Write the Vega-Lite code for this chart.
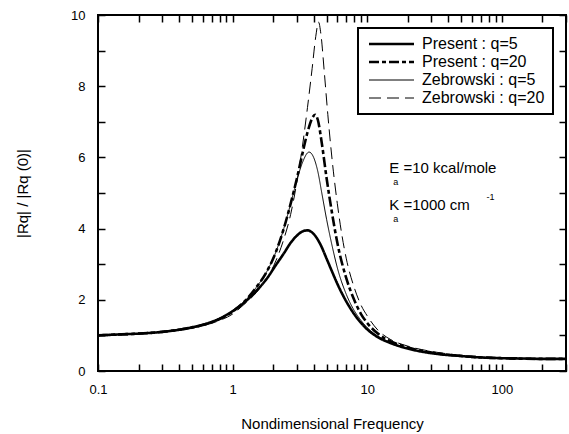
{
  "$schema": "https://vega.github.io/schema/vega-lite/v6.json",
  "width": 468,
  "height": 356,
  "autosize": "none",
  "padding": {"left": 98, "top": 15, "right": 3, "bottom": 63},
  "background": "white",
  "config": {
    "font": "Liberation Sans",
    "view": {"stroke": "black", "strokeWidth": 2},
    "axis": {"grid": false, "domain": false, "zindex": 1, "ticks": true, "tickColor": "#000000", "tickWidth": 1.5, "tickOpacity": 1, "labelColor": "black", "titleColor": "black", "labelFont": "Liberation Sans", "titleFont": "Liberation Sans", "labelFontSize": 13, "titleFontSize": 15, "titleFontWeight": "normal"}
  },
  "datasets": {
    "curves": [
      {"f": 0.1, "r": 1.0, "s": "Present : q=5"}, {"f": 0.15, "r": 1.03, "s": "Present : q=5"}, {"f": 0.2, "r": 1.05, "s": "Present : q=5"}, {"f": 0.3, "r": 1.1, "s": "Present : q=5"}, {"f": 0.4, "r": 1.16, "s": "Present : q=5"}, {"f": 0.5, "r": 1.23, "s": "Present : q=5"}, {"f": 0.6, "r": 1.3, "s": "Present : q=5"}, {"f": 0.7, "r": 1.38, "s": "Present : q=5"}, {"f": 0.8, "r": 1.47, "s": "Present : q=5"}, {"f": 1.0, "r": 1.68, "s": "Present : q=5"}, {"f": 1.2, "r": 1.9, "s": "Present : q=5"}, {"f": 1.5, "r": 2.25, "s": "Present : q=5"}, {"f": 1.8, "r": 2.6, "s": "Present : q=5"}, {"f": 2.1, "r": 2.98, "s": "Present : q=5"}, {"f": 2.4, "r": 3.3, "s": "Present : q=5"}, {"f": 2.7, "r": 3.6, "s": "Present : q=5"}, {"f": 3.0, "r": 3.8, "s": "Present : q=5"}, {"f": 3.3, "r": 3.92, "s": "Present : q=5"}, {"f": 3.6, "r": 3.95, "s": "Present : q=5"}, {"f": 4.0, "r": 3.85, "s": "Present : q=5"}, {"f": 4.5, "r": 3.55, "s": "Present : q=5"}, {"f": 5.0, "r": 3.15, "s": "Present : q=5"}, {"f": 5.5, "r": 2.78, "s": "Present : q=5"}, {"f": 6.0, "r": 2.45, "s": "Present : q=5"}, {"f": 7.0, "r": 1.95, "s": "Present : q=5"}, {"f": 8.0, "r": 1.6, "s": "Present : q=5"}, {"f": 9.0, "r": 1.35, "s": "Present : q=5"}, {"f": 10, "r": 1.17, "s": "Present : q=5"}, {"f": 12, "r": 0.95, "s": "Present : q=5"}, {"f": 15, "r": 0.78, "s": "Present : q=5"}, {"f": 20, "r": 0.63, "s": "Present : q=5"}, {"f": 30, "r": 0.5, "s": "Present : q=5"}, {"f": 50, "r": 0.42, "s": "Present : q=5"}, {"f": 70, "r": 0.38, "s": "Present : q=5"}, {"f": 100, "r": 0.36, "s": "Present : q=5"}, {"f": 150, "r": 0.35, "s": "Present : q=5"}, {"f": 200, "r": 0.34, "s": "Present : q=5"}, {"f": 300, "r": 0.34, "s": "Present : q=5"},

      {"f": 0.1, "r": 1.0, "s": "Present : q=20"}, {"f": 0.15, "r": 1.03, "s": "Present : q=20"}, {"f": 0.2, "r": 1.05, "s": "Present : q=20"}, {"f": 0.3, "r": 1.1, "s": "Present : q=20"}, {"f": 0.4, "r": 1.16, "s": "Present : q=20"}, {"f": 0.5, "r": 1.22, "s": "Present : q=20"}, {"f": 0.6, "r": 1.29, "s": "Present : q=20"}, {"f": 0.7, "r": 1.37, "s": "Present : q=20"}, {"f": 0.8, "r": 1.46, "s": "Present : q=20"}, {"f": 1.0, "r": 1.67, "s": "Present : q=20"}, {"f": 1.2, "r": 1.92, "s": "Present : q=20"}, {"f": 1.5, "r": 2.35, "s": "Present : q=20"}, {"f": 1.8, "r": 2.8, "s": "Present : q=20"}, {"f": 2.1, "r": 3.35, "s": "Present : q=20"}, {"f": 2.4, "r": 4.0, "s": "Present : q=20"}, {"f": 2.7, "r": 4.7, "s": "Present : q=20"}, {"f": 3.0, "r": 5.4, "s": "Present : q=20"}, {"f": 3.3, "r": 6.1, "s": "Present : q=20"}, {"f": 3.6, "r": 6.7, "s": "Present : q=20"}, {"f": 3.9, "r": 7.1, "s": "Present : q=20"}, {"f": 4.1, "r": 7.2, "s": "Present : q=20"}, {"f": 4.3, "r": 7.05, "s": "Present : q=20"}, {"f": 4.6, "r": 6.4, "s": "Present : q=20"}, {"f": 5.0, "r": 5.4, "s": "Present : q=20"}, {"f": 5.5, "r": 4.4, "s": "Present : q=20"}, {"f": 6.0, "r": 3.6, "s": "Present : q=20"}, {"f": 7.0, "r": 2.6, "s": "Present : q=20"}, {"f": 8.0, "r": 2.0, "s": "Present : q=20"}, {"f": 9.0, "r": 1.6, "s": "Present : q=20"}, {"f": 10, "r": 1.35, "s": "Present : q=20"}, {"f": 12, "r": 1.05, "s": "Present : q=20"}, {"f": 15, "r": 0.83, "s": "Present : q=20"}, {"f": 20, "r": 0.66, "s": "Present : q=20"}, {"f": 30, "r": 0.52, "s": "Present : q=20"}, {"f": 50, "r": 0.42, "s": "Present : q=20"}, {"f": 100, "r": 0.36, "s": "Present : q=20"}, {"f": 200, "r": 0.34, "s": "Present : q=20"}, {"f": 300, "r": 0.34, "s": "Present : q=20"},

      {"f": 0.1, "r": 1.0, "s": "Zebrowski : q=5"}, {"f": 0.15, "r": 1.03, "s": "Zebrowski : q=5"}, {"f": 0.2, "r": 1.05, "s": "Zebrowski : q=5"}, {"f": 0.3, "r": 1.1, "s": "Zebrowski : q=5"}, {"f": 0.4, "r": 1.16, "s": "Zebrowski : q=5"}, {"f": 0.5, "r": 1.23, "s": "Zebrowski : q=5"}, {"f": 0.6, "r": 1.3, "s": "Zebrowski : q=5"}, {"f": 0.7, "r": 1.38, "s": "Zebrowski : q=5"}, {"f": 0.8, "r": 1.47, "s": "Zebrowski : q=5"}, {"f": 1.0, "r": 1.68, "s": "Zebrowski : q=5"}, {"f": 1.2, "r": 1.92, "s": "Zebrowski : q=5"}, {"f": 1.5, "r": 2.35, "s": "Zebrowski : q=5"}, {"f": 1.8, "r": 2.8, "s": "Zebrowski : q=5"}, {"f": 2.1, "r": 3.35, "s": "Zebrowski : q=5"}, {"f": 2.4, "r": 4.0, "s": "Zebrowski : q=5"}, {"f": 2.7, "r": 4.7, "s": "Zebrowski : q=5"}, {"f": 3.0, "r": 5.35, "s": "Zebrowski : q=5"}, {"f": 3.3, "r": 5.85, "s": "Zebrowski : q=5"}, {"f": 3.7, "r": 6.15, "s": "Zebrowski : q=5"}, {"f": 4.0, "r": 6.0, "s": "Zebrowski : q=5"}, {"f": 4.3, "r": 5.6, "s": "Zebrowski : q=5"}, {"f": 4.6, "r": 5.0, "s": "Zebrowski : q=5"}, {"f": 5.0, "r": 4.25, "s": "Zebrowski : q=5"}, {"f": 5.5, "r": 3.5, "s": "Zebrowski : q=5"}, {"f": 6.0, "r": 2.9, "s": "Zebrowski : q=5"}, {"f": 7.0, "r": 2.15, "s": "Zebrowski : q=5"}, {"f": 8.0, "r": 1.7, "s": "Zebrowski : q=5"}, {"f": 9.0, "r": 1.42, "s": "Zebrowski : q=5"}, {"f": 10, "r": 1.22, "s": "Zebrowski : q=5"}, {"f": 12, "r": 0.98, "s": "Zebrowski : q=5"}, {"f": 15, "r": 0.8, "s": "Zebrowski : q=5"}, {"f": 20, "r": 0.64, "s": "Zebrowski : q=5"}, {"f": 30, "r": 0.5, "s": "Zebrowski : q=5"}, {"f": 50, "r": 0.42, "s": "Zebrowski : q=5"}, {"f": 100, "r": 0.36, "s": "Zebrowski : q=5"}, {"f": 200, "r": 0.34, "s": "Zebrowski : q=5"}, {"f": 300, "r": 0.34, "s": "Zebrowski : q=5"},

      {"f": 0.1, "r": 1.0, "s": "Zebrowski : q=20"}, {"f": 0.15, "r": 1.03, "s": "Zebrowski : q=20"}, {"f": 0.2, "r": 1.05, "s": "Zebrowski : q=20"}, {"f": 0.3, "r": 1.09, "s": "Zebrowski : q=20"}, {"f": 0.4, "r": 1.14, "s": "Zebrowski : q=20"}, {"f": 0.5, "r": 1.2, "s": "Zebrowski : q=20"}, {"f": 0.6, "r": 1.27, "s": "Zebrowski : q=20"}, {"f": 0.7, "r": 1.34, "s": "Zebrowski : q=20"}, {"f": 0.8, "r": 1.42, "s": "Zebrowski : q=20"}, {"f": 1.0, "r": 1.6, "s": "Zebrowski : q=20"}, {"f": 1.2, "r": 1.85, "s": "Zebrowski : q=20"}, {"f": 1.5, "r": 2.2, "s": "Zebrowski : q=20"}, {"f": 1.8, "r": 2.6, "s": "Zebrowski : q=20"}, {"f": 2.1, "r": 3.1, "s": "Zebrowski : q=20"}, {"f": 2.4, "r": 3.7, "s": "Zebrowski : q=20"}, {"f": 2.7, "r": 4.4, "s": "Zebrowski : q=20"}, {"f": 3.0, "r": 5.3, "s": "Zebrowski : q=20"}, {"f": 3.3, "r": 6.3, "s": "Zebrowski : q=20"}, {"f": 3.6, "r": 7.4, "s": "Zebrowski : q=20"}, {"f": 3.9, "r": 8.5, "s": "Zebrowski : q=20"}, {"f": 4.15, "r": 9.4, "s": "Zebrowski : q=20"}, {"f": 4.35, "r": 9.8, "s": "Zebrowski : q=20"}, {"f": 4.55, "r": 9.4, "s": "Zebrowski : q=20"}, {"f": 4.8, "r": 8.4, "s": "Zebrowski : q=20"}, {"f": 5.1, "r": 7.2, "s": "Zebrowski : q=20"}, {"f": 5.5, "r": 5.9, "s": "Zebrowski : q=20"}, {"f": 6.0, "r": 4.7, "s": "Zebrowski : q=20"}, {"f": 6.5, "r": 3.8, "s": "Zebrowski : q=20"}, {"f": 7.0, "r": 3.15, "s": "Zebrowski : q=20"}, {"f": 8.0, "r": 2.35, "s": "Zebrowski : q=20"}, {"f": 9.0, "r": 1.85, "s": "Zebrowski : q=20"}, {"f": 10, "r": 1.55, "s": "Zebrowski : q=20"}, {"f": 12, "r": 1.15, "s": "Zebrowski : q=20"}, {"f": 15, "r": 0.88, "s": "Zebrowski : q=20"}, {"f": 20, "r": 0.7, "s": "Zebrowski : q=20"}, {"f": 30, "r": 0.55, "s": "Zebrowski : q=20"}, {"f": 50, "r": 0.44, "s": "Zebrowski : q=20"}, {"f": 100, "r": 0.37, "s": "Zebrowski : q=20"}, {"f": 200, "r": 0.34, "s": "Zebrowski : q=20"}, {"f": 300, "r": 0.34, "s": "Zebrowski : q=20"}
    ],
    "notes": [
      {"f": 14.6, "r": 5.7, "t": "E  =10 kcal/mole", "k": "main"},
      {"f": 14.6, "r": 4.66, "t": "K  =1000 cm", "k": "main"},
      {"f": 15.6, "r": 5.3, "t": "a", "k": "sub"},
      {"f": 15.6, "r": 4.26, "t": "a", "k": "sub"},
      {"f": 77, "r": 4.9, "t": "-1", "k": "sub"}
    ]
  },
  "resolve": {"axis": {"x": "independent", "y": "independent"}},
  "layer": [
    {
      "data": {"name": "curves"},
      "mark": {"type": "line", "interpolate": "monotone", "color": "black", "clip": true},
      "encoding": {
        "x": {"field": "f", "type": "quantitative", "scale": {"type": "log", "domain": [0.1, 300], "nice": false},
          "axis": {"title": "Nondimensional Frequency", "titlePadding": 20,
            "values": [0.1,0.2,0.3,0.4,0.5,0.6,0.7,0.8,0.9,1,2,3,4,5,6,7,8,9,10,20,30,40,50,60,70,80,90,100,200,300],
            "labelExpr": "(datum.value == 0.1 || datum.value == 1 || datum.value == 10 || datum.value == 100) ? datum.label : ''",
            "offset": -7, "tickSize": 7, "labelPadding": 12, "labelFlush": false, "labelOverlap": false}},
        "y": {"field": "r", "type": "quantitative", "scale": {"domain": [0, 10], "nice": false},
          "axis": {"title": "|Rq| / |Rq (0)|", "titlePadding": 40,
            "values": [0,1,2,3,4,5,6,7,8,9,10],
            "labelExpr": "datum.value % 2 == 0 ? datum.label : ''",
            "offset": -7, "tickSize": 7, "labelPadding": 13}},
        "strokeDash": {"field": "s", "type": "nominal",
          "scale": {"domain": ["Present : q=5", "Present : q=20", "Zebrowski : q=5", "Zebrowski : q=20"],
            "range": [[1, 0], [10, 3, 4, 3], [1, 0], [12, 6]]},
          "legend": {"title": null, "orient": "none", "legendX": 260, "legendY": 13, "symbolType": "M-1,0H8", "symbolSize": 100, "symbolStrokeColor": "black", "labelFontSize": 16, "labelFont": "Liberation Sans", "labelColor": "black", "rowPadding": 2, "labelOffset": 40, "padding": 8, "strokeColor": "black", "fillColor": "white",
            "encode": {"symbols": {"update": {"strokeWidth": {"signal": "indexof(datum.value, 'Present') >= 0 ? 2.6 : 1"}}}, "legend": {"update": {"strokeWidth": {"value": 2}}}}}},
        "strokeWidth": {"field": "s", "type": "nominal",
          "scale": {"type": "ordinal", "domain": ["Present : q=5", "Present : q=20", "Zebrowski : q=5", "Zebrowski : q=20"],
            "range": [2.6, 2.6, 1, 1]}, "legend": null}
      }
    },
    {
      "data": {"name": "curves"},
      "mark": {"type": "line", "opacity": 0},
      "encoding": {
        "x": {"field": "f", "type": "quantitative",
          "axis": {"orient": "top", "title": null, "labels": false,
            "values": [0.1,0.2,0.3,0.4,0.5,0.6,0.7,0.8,0.9,1,2,3,4,5,6,7,8,9,10,20,30,40,50,60,70,80,90,100,200,300],
            "offset": -7, "tickSize": 7}},
        "y": {"field": "r", "type": "quantitative",
          "axis": {"orient": "right", "title": null, "labels": false, "values": [0,1,2,3,4,5,6,7,8,9,10], "offset": -7, "tickSize": 7}},
        "detail": {"field": "s"}
      }
    },
    {
      "data": {"name": "notes"},
      "mark": {"type": "text", "align": "left", "baseline": "middle", "color": "black", "font": "Liberation Sans"},
      "encoding": {
        "x": {"field": "f", "type": "quantitative", "axis": null},
        "y": {"field": "r", "type": "quantitative", "axis": null},
        "text": {"field": "t"},
        "size": {"field": "k", "type": "nominal", "scale": {"type": "ordinal", "domain": ["main", "sub"], "range": [15, 9]}, "legend": null}
      }
    }
  ]
}
